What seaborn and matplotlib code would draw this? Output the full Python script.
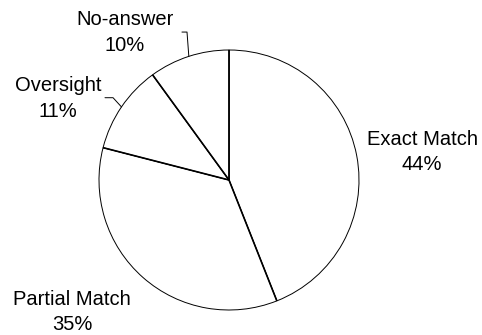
import numpy as np
import seaborn as sns
import matplotlib.pyplot as plt

sns.set_theme(style="white")
plt.rcParams['font.family'] = ['Liberation Sans', 'DejaVu Sans']

# data
categories = ['Exact Match', 'Partial Match', 'Oversight', 'No-answer']
percent = [44, 35, 11, 10]

# label centres (data units, pie radius = 1)
label_pos = [(1.485, 0.215), (-1.208, -1.015), (-1.315, 0.625), (-0.80, 1.135)]
# leader lines: corner and end point for the small slices
leaders = {2: [(-0.892, 0.633), (-0.954, 0.633)],
           3: [(-0.323, 1.138), (-0.362, 1.138)]}

fig = plt.figure(figsize=(4.82, 3.35), dpi=100)
ax = fig.add_axes([0, 0, 1, 1])

wedges, _ = ax.pie(percent, startangle=90, counterclock=False,
                   colors=['white'] * len(percent),
                   wedgeprops=dict(edgecolor='black', linewidth=0.7))

# thicker radial dividers
for w in wedges:
    t = np.deg2rad(w.theta1)
    ax.plot([0, np.cos(t)], [0, np.sin(t)], color='black', lw=1.2,
            solid_capstyle='butt')

for i, (w, name, p) in enumerate(zip(wedges, categories, percent)):
    ax.text(label_pos[i][0], label_pos[i][1], f'{name}\n{p}%',
            ha='center', va='center', fontsize=14.5, linespacing=1.45,
            color='black')
    if i in leaders:
        mid = np.deg2rad((w.theta1 + w.theta2) / 2)
        pts = [(np.cos(mid), np.sin(mid))] + leaders[i]
        xs, ys = zip(*pts)
        ax.plot(xs, ys, color='black', lw=0.7)

ax.set_xlim(-229 / 130, 253 / 130)
ax.set_ylim(-155 / 130, 180 / 130)
ax.set_aspect('equal')
ax.axis('off')

fig.savefig('out.png', dpi=100, facecolor='white')
